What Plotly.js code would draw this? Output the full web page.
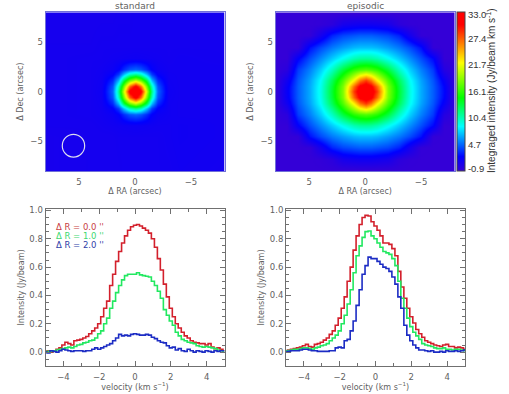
<!DOCTYPE html>
<html><head><meta charset="utf-8">
<script src="https://cdn.plot.ly/plotly-3.0.1.min.js"></script>
<style>html,body{margin:0;padding:0;background:#fff}#c{width:509px;height:394px}</style>
</head><body><div id="c"></div>
<script>
const velocity=[-5,-4.83,-4.67,-4.5,-4.33,-4.17,-4,-3.83,-3.67,-3.5,
-3.33,-3.17,-3,-2.83,-2.67,-2.5,-2.33,-2.17,-2,-1.83,
-1.67,-1.5,-1.33,-1.17,-1,-.83,-.67,-.5,-.33,-.17,
0,.17,.33,.5,.67,.83,1,1.17,1.33,1.5,
1.67,1.83,2,2.17,2.33,2.5,2.67,2.83,3,3.17,
3.33,3.5,3.67,3.83,4,4.17,4.33,4.5,4.67,4.83,5];
const stdR0=[.00,.01,.00,.01,.02,.03,.05,.07,.06,.05,
.08,.085,.09,.10,.11,.13,.15,.17,.20,.25,
.31,.36,.47,.55,.64,.71,.77,.82,.86,.885,
.895,.90,.89,.875,.86,.84,.80,.74,.66,.58,
.48,.39,.31,.25,.20,.17,.14,.115,.10,.08,
.07,.065,.06,.06,.05,.06,.035,.025,.03,.02,.01];
const stdR1=[.00,.005,.005,.01,.015,.02,.025,.03,.035,.03,
.04,.05,.055,.065,.07,.08,.085,.10,.13,.15,
.20,.24,.31,.36,.42,.47,.51,.54,.55,.55,
.55,.56,.545,.54,.535,.53,.50,.47,.43,.38,
.30,.26,.22,.19,.14,.115,.09,.08,.07,.065,
.06,.045,.04,.035,.04,.035,.03,.025,.015,.01,.005];
const stdR2=[.00,-.005,.01,.005,.00,.01,.02,.015,.01,.005,
.01,.01,.01,.005,.01,.01,.02,.03,.02,.03,
.04,.05,.06,.08,.10,.125,.115,.12,.115,.125,
.13,.125,.12,.12,.125,.12,.105,.095,.08,.07,
.065,.045,.03,.035,.015,.025,.01,.005,.02,.01,
.00,.01,.005,.00,.01,.005,.00,.01,.005,.01,.01];
const epiR0=[.01,.015,.02,.025,.03,.035,.045,.055,.04,.035,
.055,.06,.07,.085,.10,.125,.15,.19,.24,.31,
.39,.50,.60,.72,.82,.90,.95,.965,.96,.92,
.89,.86,.82,.77,.77,.76,.73,.68,.57,.46,
.38,.31,.25,.205,.16,.13,.105,.08,.07,.06,
.05,.045,.04,.05,.055,.04,.04,.03,.035,.03,.02];
const epiR1=[.01,.012,.015,.02,.02,.025,.03,.03,.025,.02,
.03,.035,.045,.05,.06,.08,.10,.12,.15,.20,
.26,.34,.44,.56,.68,.75,.81,.85,.855,.82,
.80,.77,.74,.71,.70,.69,.66,.61,.50,.38,
.31,.24,.18,.14,.115,.09,.06,.05,.045,.04,
.03,.025,.025,.03,.02,.02,.015,.02,.02,.015,.01];
const epiR2=[.00,.005,.01,.01,.01,.015,.02,.02,.015,.01,
.01,.005,.005,.005,.005,.01,.01,.03,.035,.03,
.08,.09,.15,.22,.33,.44,.55,.61,.67,.66,
.66,.64,.62,.60,.59,.57,.53,.48,.39,.31,
.19,.12,.08,.05,.03,.015,.015,.01,.005,.01,
.00,.00,.005,.00,.01,.005,.005,.01,.005,.01,.015];

const stdAxisX=[-8,-4,-3,-2,-1.5,-1,-.5,0,.5,1,1.5,2,3,4,8];
const stdAxisY=[-9,-4.5,-3.4,-2.26,-1.7,-1.13,-.56,0,.56,1.13,1.7,2.26,3.4,4.5,9];
const stdMap=[
[1.0,1.1,1.0,1.0,1.0,1.0,1.0,1.0,1.0,1.0,0.9,0.9,0.9,0.9,0.8],
[1.1,1.2,1.1,1.0,1.0,1.0,1.0,1.0,1.0,1.0,1.0,0.9,0.9,0.9,0.8],
[1.1,1.2,1.1,1.1,1.15,1.2,1.25,1.3,1.25,1.2,1.15,1.1,1.0,0.9,0.9],
[1.1,1.1,1.2,1.4,2.0,3.2,4.3,4.7,4.3,3.2,2.0,1.4,1.1,1.0,0.9],
[1.1,1.1,1.2,2.0,3.7,7.0,10.3,11.5,10.3,7.0,3.7,2.0,1.15,1.0,0.9],
[1.1,1.1,1.2,3.2,7.0,13.0,18.0,20.5,18.0,13.0,7.0,3.2,1.2,1.0,0.9],
[1.1,1.1,1.25,4.3,10.3,18.0,27.0,31.5,27.0,18.0,10.3,4.3,1.25,1.0,0.9],
[1.1,1.1,1.3,4.7,11.5,20.5,31.5,33.0,31.5,20.5,11.5,4.7,1.3,1.0,0.9],
[1.1,1.1,1.25,4.3,10.3,18.0,27.0,31.5,27.0,18.0,10.3,4.3,1.25,1.0,0.9],
[1.1,1.1,1.2,3.2,7.0,13.0,18.0,20.5,18.0,13.0,7.0,3.2,1.2,1.0,0.9],
[1.1,1.1,1.15,2.0,3.7,7.0,10.3,11.5,10.3,7.0,3.7,2.0,1.15,1.0,0.9],
[1.1,1.1,1.1,1.4,2.0,3.2,4.3,4.7,4.3,3.2,2.0,1.4,1.1,1.0,0.9],
[1.0,1.1,1.0,1.1,1.15,1.2,1.25,1.3,1.25,1.2,1.15,1.1,1.0,1.0,0.9],
[1.0,1.0,1.0,1.0,1.0,1.0,1.0,1.0,1.0,1.0,1.0,1.0,1.0,0.9,0.9],
[1.0,1.0,1.0,1.0,1.0,1.0,1.0,1.0,0.9,0.9,0.9,0.8,0.8,0.8,0.8]];

const epiAxisX=[-8,-7,-6,-5,-4,-3,-2,-1,-.5,0,.5,1,2,3,4,5,6,7,8];
const epiAxisY=[-9,-7.9,-6.77,-5.64,-4.51,-3.38,-2.26,-1.13,-.56,0,.56,1.13,2.26,3.38,4.51,5.64,6.77,7.9,9];
const epiMap=[
[-.9,-.9,-.9,-.9,-.9,-.9,-.9,-.9,-.9,-.9,-.9,-.9,-.9,-.9,-.9,-.9,-.9,-.9,-.9],
[-.9,-.9,-.9,-.9,-.9,-.9,-.9,-.9,-.9,-.9,-.9,-.9,-.9,-.9,-.9,-.9,-.9,-.9,-.9],
[-.9,-.9,-.9,-.9,-.8,-.4,.8,1.1,1.2,1.2,1.2,1.1,.8,-.4,-.8,-.9,-.9,-.9,-.9],
[-.9,-.9,-.9,-.8,1.0,3.0,3.9,4.3,4.5,4.5,4.5,4.3,3.9,3.0,1.0,-.8,-.9,-.9,-.9],
[-.9,-.9,-.8,2.5,4.0,5.2,6.1,6.8,7.0,7.0,7.0,6.8,6.1,5.2,4.0,2.5,-.8,-.9,-.9],
[-.9,-.9,2.3,4.1,5.7,7.3,8.9,10.4,10.9,11.0,10.9,10.4,8.9,7.3,5.7,4.1,2.0,-.9,-.9],
[-.9,0,3.6,5.4,7.4,10.0,13.2,15.8,16.6,17.0,16.6,15.8,13.2,10.0,7.4,5.4,3.6,-.3,-.9],
[-.9,1.7,4.3,6.3,8.8,12.6,17.0,22.5,26.5,28.5,26.5,22.5,17.0,12.6,8.8,6.3,4.3,1.2,-.9],
[-.9,2.2,4.5,6.5,9.1,13.3,18.3,27.0,31.0,32.0,31.0,27.0,18.3,13.3,9.1,6.5,4.5,1.7,-.9],
[-.9,2.3,4.5,6.5,9.2,13.5,18.5,28.5,32.0,33.0,32.0,28.5,18.5,13.5,9.2,6.5,4.5,1.8,-.9],
[-.9,2.2,4.5,6.5,9.1,13.3,18.3,27.0,31.0,32.0,31.0,27.0,18.3,13.3,9.1,6.5,4.5,1.7,-.9],
[-.9,1.7,4.3,6.3,8.8,12.6,17.0,22.5,26.5,28.5,26.5,22.5,17.0,12.6,8.8,6.3,4.3,1.2,-.9],
[-.9,0,3.6,5.4,7.4,10.0,13.2,15.8,16.6,17.0,16.6,15.8,13.2,10.0,7.4,5.4,3.6,-.3,-.9],
[-.9,-.9,2.3,4.1,5.7,7.3,8.9,10.4,10.9,11.0,10.9,10.4,8.9,7.3,5.7,4.1,2.0,-.9,-.9],
[-.9,-.9,-.8,2.5,4.0,5.2,6.1,6.8,7.0,7.0,7.0,6.8,6.1,5.2,4.0,2.5,-.8,-.9,-.9],
[-.9,-.9,-.9,-.8,1.0,3.0,3.9,4.3,4.5,4.5,4.5,4.3,3.9,3.0,1.0,-.8,-.9,-.9,-.9],
[-.9,-.9,-.9,-.9,-.8,-.4,.8,1.1,1.2,1.2,1.2,1.1,.8,-.4,-.8,-.9,-.9,-.9,-.9],
[-.9,-.9,-.9,-.9,-.9,-.9,-.9,-.9,-.9,-.9,-.9,-.9,-.9,-.9,-.9,-.9,-.9,-.9,-.9],
[-.9,-.9,-.9,-.9,-.9,-.9,-.9,-.9,-.9,-.9,-.9,-.9,-.9,-.9,-.9,-.9,-.9,-.9,-.9]];

const cbarVals=[-0.5,4.7,10.4,16.1,21.7,27.4,32.4];
const cbarText=['-0.9','4.7','10.4','16.1','21.7','27.4','33.0'];
const legendLabels=['Δ R = 0.0 \'\'','Δ R = 1.0 \'\'','Δ R = 2.0 \'\''];

const W=509,H=394;
const GRAY='#5f5f5f', AX='#707070';
const LBL='DejaVu Sans, sans-serif', HV='Liberation Sans, Arial, sans-serif';
const dx=(a,b)=>[a/W,b/W];
const dy=(top,bot)=>[1-bot/H,1-top/H];
const rainbow=[[0,'rgb(52,0,215)'],[.09,'rgb(0,0,255)'],[.28,'rgb(0,255,255)'],[.46,'rgb(0,255,0)'],[.68,'rgb(255,255,0)'],[.92,'rgb(255,0,0)'],[1,'rgb(255,0,0)']];
const tf={family:LBL,size:8.5,color:GRAY};
const ttf={family:LBL,size:8,color:GRAY};

function mapX(d,title){return {domain:d,range:[8,-8],tickvals:[5,0,-5],ticks:'',showgrid:false,zeroline:false,showline:true,linecolor:'#7070d8',linewidth:1,mirror:true,tickfont:tf,ticklabelstandoff:3,title:{text:title,font:ttf,standoff:2}};}
function mapY(d,title){return {domain:d,range:[-8,8],tickvals:[-5,0,5],ticks:'',showgrid:false,zeroline:false,showline:true,linecolor:'#7070d8',linewidth:1,mirror:true,tickfont:tf,title:{text:title,font:ttf,standoff:5}};}
function specX(d){return {domain:d,range:[-5,5],tickvals:[-4,-2,0,2,4],ticks:'inside',ticklen:5,tickcolor:AX,showgrid:false,zeroline:false,showline:true,linecolor:AX,linewidth:1,mirror:'allticks',tickfont:tf,ticklabelstandoff:2,minor:{ticks:'inside',dtick:1,ticklen:3,tickcolor:AX,showgrid:false},title:{text:'velocity (km s<sup>−1</sup>)',font:ttf,standoff:3}};}
function specY(d){return {domain:d,range:[-0.1,1.012],tickvals:[0,.2,.4,.6,.8,1],ticktext:['0.0','0.2','0.4','0.6','0.8','1.0'],ticks:'inside',ticklen:5,tickcolor:AX,showgrid:false,zeroline:false,showline:true,linecolor:AX,linewidth:1,mirror:'allticks',tickfont:tf,minor:{ticks:'inside',dtick:.05,ticklen:3,tickcolor:AX,showgrid:false},title:{text:'Intensity (Jy/beam)',font:ttf,standoff:3}};}
function spec(y,c,xa,ya){return {type:'scatter',mode:'lines',x:velocity,y:y,xaxis:xa,yaxis:ya,line:{color:c,width:1.6,shape:'hvh'},showlegend:false,hoverinfo:'skip'};}

const RED='#d3202c',GRN='#22e860',BLU='#1c2cc4';
const data=[
{type:'heatmap',x:stdAxisX,y:stdAxisY,z:stdMap,zmin:-.9,zmax:33,zsmooth:'best',colorscale:rainbow,showscale:false,xaxis:'x',yaxis:'y'},
{type:'heatmap',x:epiAxisX,y:epiAxisY,z:epiMap,zmin:-.9,zmax:33,zsmooth:'best',colorscale:rainbow,xaxis:'x2',yaxis:'y2',
 colorbar:{x:457/W,xanchor:'left',xpad:0,ypad:0,thickness:8,thicknessmode:'pixels',len:(171-12.3)/H,lenmode:'fraction',y:1-171/H,yanchor:'bottom',outlinewidth:1,outlinecolor:'#444',ticks:'',tickvals:cbarVals,ticktext:cbarText,ticklabelposition:'outside',tickfont:{family:HV,size:9.5,color:'#333'}}},
spec(stdR0,RED,'x3','y3'),spec(stdR1,GRN,'x3','y3'),spec(stdR2,BLU,'x3','y3'),
spec(epiR0,RED,'x4','y4'),spec(epiR1,GRN,'x4','y4'),spec(epiR2,BLU,'x4','y4')
];
function note(t,x,y,c,extra){return Object.assign({text:t,xref:'paper',yref:'paper',x:x/W,y:1-y/H,showarrow:false,xanchor:'center',yanchor:'middle',font:{family:LBL,size:8.5,color:c}},extra||{});}
const layout={
 width:W,height:H,margin:{l:0,r:0,t:0,b:0},paper_bgcolor:'#fff',plot_bgcolor:'#fff',showlegend:false,
 xaxis:mapX(dx(45.5,224.5),'Δ RA (arcsec)'),yaxis:mapY(dy(12.3,171),'Δ Dec (arcsec)'),
 xaxis2:mapX(dx(275.7,454.7),'Δ RA (arcsec)'),yaxis2:Object.assign(mapY(dy(12.3,171),'Δ Dec (arcsec)'),{anchor:'x2'}),
 xaxis3:Object.assign(specX(dx(45.5,224.5)),{anchor:'y3'}),yaxis3:Object.assign(specY(dy(208.7,366.3)),{anchor:'x3'}),
 xaxis4:Object.assign(specX(dx(286,465)),{anchor:'y4'}),yaxis4:Object.assign(specY(dy(208.7,366.3)),{anchor:'x4'}),
 shapes:[{type:'circle',xref:'x',yref:'y',x0:6.5,x1:4.5,y0:-6.6,y1:-4.3,line:{color:'#dcdcf0',width:1.2}}],
 annotations:[
  note('standard',135,5.5,GRAY,{font:{family:LBL,size:9,color:GRAY}}),
  note('episodic',365,5.5,GRAY,{font:{family:LBL,size:9,color:GRAY}}),
  note(legendLabels[0],54,227,'#c8403f',{xanchor:'left'}),
  note(legendLabels[1],54,236,'#40d870',{xanchor:'left'}),
  note(legendLabels[2],54,245,'#3040a8',{xanchor:'left'}),
  note('Integraged intensity (Jy/beam km s<sup>-1</sup>)',491,91,'#333',{textangle:-90,font:{family:HV,size:10,color:'#333'}})
 ]
};
layout.xaxis2.anchor='y2';
Plotly.newPlot('c',data,layout,{displayModeBar:false,staticPlot:true});
</script></body></html>
